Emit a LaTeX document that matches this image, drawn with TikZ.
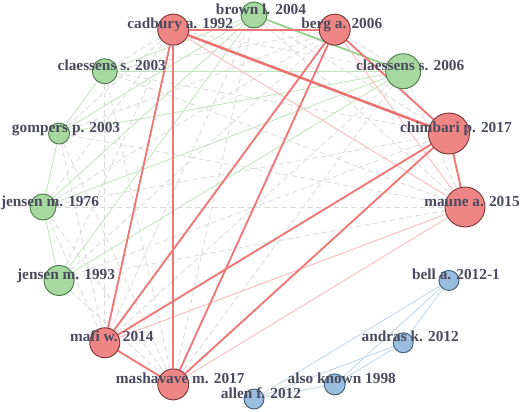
\documentclass[tikz,border=0pt]{standalone}
\usepackage{fontspec}
\setmainfont{Liberation Serif}
\usetikzlibrary{backgrounds,calc}

\definecolor{redfill}{HTML}{F08585}
\definecolor{redline}{HTML}{7A3535}
\definecolor{grnfill}{HTML}{A6D8A0}
\definecolor{grnline}{HTML}{4C7A48}
\definecolor{blufill}{HTML}{9CBEDE}
\definecolor{bluline}{HTML}{3E5C7C}
\definecolor{txtcol}{HTML}{4A4A5E}

\begin{document}
\begin{tikzpicture}[x=0.75pt, y=0.75pt,
    paper/.style={circle, draw, line width=0.7pt, inner sep=0pt, minimum size=#1*1.5pt},
    red/.style={fill=redfill, draw=redline},
    grn/.style={fill=grnfill, draw=grnline},
    blu/.style={fill=blufill, draw=bluline},
    lbl/.style={anchor=base, text=txtcol, font=\bfseries\fontsize{11.5}{12}\selectfont, inner sep=0pt},
    redthick/.style={draw={rgb,255:red,238;green,112;blue,112}, line width=1.9pt},
    redlink/.style={draw={rgb,255:red,240;green,118;blue,118}, line width=1.4pt},
    redlight/.style={draw={rgb,255:red,247;green,190;blue,190}, line width=0.7pt},
    grnlink/.style={draw={rgb,255:red,192;green,228;blue,186}, line width=0.6pt},
    grnthick/.style={draw={rgb,255:red,146;green,208;blue,138}, line width=1.3pt},
    blulink/.style={draw={rgb,255:red,190;green,212;blue,234}, line width=0.6pt},
    dashlink/.style={draw={rgb,255:red,218;green,218;blue,218}, line width=0.6pt, dash pattern=on 4pt off 2.5pt}]
  % Frame 520 x 411 px, origin at the centre of the ring
  \useasboundingbox (-254,-204) rectangle (266,207);

  % Papers on an elliptic ring
  \foreach \nm/\ang/\r/\grp in {brown/90/13/grn, berg/67.5/15.5/red, clb/45/17.5/grn,
      chimbari/22.5/20.5/red, maune/0/20/red, bell/-22.5/10/blu, andras/-45/10/blu,
      also/-67.5/10.5/blu, allen/-90/10/blu, mashavave/-112.5/15.5/red, mafi/-135/15/red,
      jenb/-157.5/15/grn, jena/180/13/grn, gompers/157.5/10.5/grn, cla/135/12.5/grn,
      cadbury/112.5/15.5/red}
    \node[paper=\r, \grp] (\nm) at (\ang:211 and 192) {};

  \begin{pgfonlayer}{background}
    % Grey dashed links between clusters
    \foreach \a/\b in {cla/mafi, cla/mashavave, cla/chimbari, cla/maune, cla/berg,
        gompers/mashavave, gompers/cadbury, gompers/berg, gompers/maune, gompers/mafi,
        jena/mafi, jena/mashavave, jena/cadbury, jena/chimbari, jena/maune,
        jenb/cadbury, jenb/mashavave, jenb/berg, jenb/chimbari, jenb/maune,
        brown/mafi, brown/mashavave, brown/chimbari, brown/maune,
        clb/mafi, clb/mashavave, clb/maune, clb/cadbury, clb/berg,
        cadbury/cla, berg/jena}
      \draw[dashlink] (\a) -- (\b);

    % Green cluster
    \foreach \a/\b in {cla/clb, cla/gompers, cla/brown, gompers/jena, gompers/clb,
        gompers/brown, jena/jenb, jena/clb, jena/brown, jenb/clb, jenb/brown}
      \draw[grnlink] (\a) -- (\b);
    \draw[grnthick] (brown) -- (clb);

    % Blue cluster
    \foreach \a/\b in {bell/andras, bell/also, bell/allen, andras/also, andras/allen, also/allen}
      \draw[blulink] (\a) -- (\b);

    % Red cluster
    \foreach \a/\b in {cadbury/maune, berg/maune, maune/mafi, maune/mashavave}
      \draw[redlight] (\a) -- (\b);
    \foreach \a/\b in {cadbury/berg, cadbury/mafi, cadbury/mashavave, berg/chimbari,
        berg/mafi, berg/mashavave, chimbari/mafi, chimbari/mashavave, chimbari/maune,
        mafi/mashavave}
      \draw[redlink] (\a) -- (\b);
    \draw[redthick] (cadbury) -- (chimbari);
  \end{pgfonlayer}

  % Labels, nudged right and up
  \foreach \nm/\txt in {brown/brown l. 2004, berg/berg a. 2006, clb/claessens s. 2006,
      chimbari/chimbari p. 2017, maune/maune a. 2015, bell/bell a. 2012-1,
      andras/andras k. 2012, also/also known 1998, allen/allen f. 2012,
      mashavave/mashavave m. 2017, mafi/mafi w. 2014, jenb/jensen m. 1993,
      jena/jensen m. 1976, gompers/gompers p. 2003, cla/claessens s. 2003,
      cadbury/cadbury a. 1992}
    \node[lbl] (l-\nm) at ($(\nm)+(7,1)$) {\txt};
\end{tikzpicture}
\end{document}
